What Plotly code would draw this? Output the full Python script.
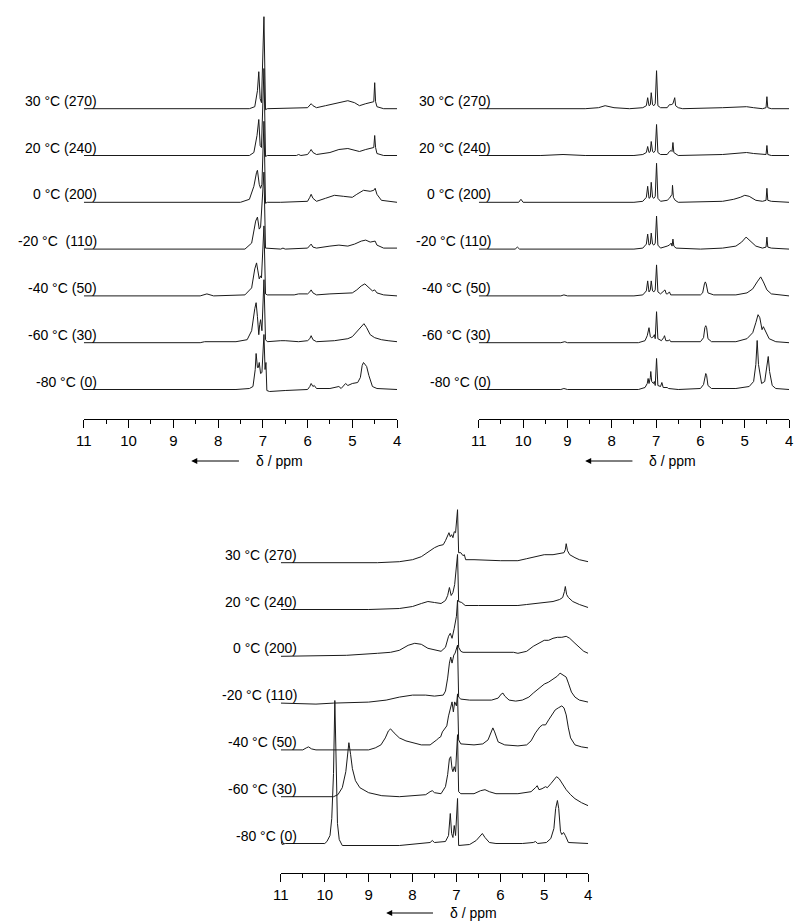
import plotly.graph_objects as go

W, H = 798, 922

# ---------------- data: stacked 1H NMR spectra, (ppm, height) vertices ----------------
LABELS_TL = ["-80 °C (0)", "-60 °C (30)", "-40 °C (50)", "-20 °C  (110)",
             "0 °C (200)", "20 °C (240)", "30 °C (270)"]
LABELS = ["-80 °C (0)", "-60 °C (30)", "-40 °C (50)", "-20 °C (110)",
          "0 °C (200)", "20 °C (240)", "30 °C (270)"]
TICKS = [11, 10, 9, 8, 7, 6, 5, 4]

# top-left panel
tl_m80 = [(11.0,0),(7.6,0),(7.3,1),(7.22,3),(7.17,20),(7.15,36),(7.12,22),(7.10,22),(7.08,27),(7.05,16),(7.02,17),(6.975,55),(6.95,20),(6.93,27),(6.91,-1),(6.85,-2),(6.5,-1),(6.0,0),(5.95,3),(5.92,6),(5.88,3),(5.85,4),(5.8,1),(5.5,1),(5.3,3),(5.25,1),(5.15,6),(5.1,4),(5.0,6),(4.88,7),(4.82,12),(4.78,24),(4.75,27),(4.70,24),(4.68,23),(4.63,14),(4.55,3),(4.45,1),(4.0,0)]
tl_m60 = [(11,0),(8.4,0),(8.3,1),(7.6,1),(7.35,3),(7.25,12),(7.18,34),(7.15,40),(7.12,26),(7.09,8),(7.07,18),(7.05,23),(7.02,12),(6.975,63),(6.94,3),(6.9,1),(6.6,2),(6.5,2),(6.2,1),(6.0,2),(5.95,4),(5.92,7),(5.88,3),(5.8,1),(5.4,2),(5.1,4),(5.0,6),(4.9,11),(4.8,17),(4.74,19),(4.68,15),(4.6,8),(4.5,5),(4.35,3),(4.2,2),(4.0,1)]
tl_m40 = [(11,0),(8.4,0),(8.25,2),(8.1,0),(7.4,1),(7.25,8),(7.18,27),(7.14,33),(7.11,25),(7.08,17),(7.05,20),(7.03,18),(6.975,70),(6.94,2),(6.9,1),(6.3,1),(6.2,2),(6.0,2),(5.95,4),(5.92,6),(5.88,3),(5.8,1),(5.5,2),(5.0,3),(4.9,6),(4.8,10),(4.72,12),(4.62,8),(4.55,5),(4.5,6),(4.45,3),(4.3,1),(4.0,0)]
tl_m20 = [(11,0),(7.4,0),(7.25,6),(7.16,28),(7.12,32),(7.08,20),(7.05,22),(6.975,77),(6.94,1),(6.6,0),(6.55,1),(6.5,0),(6.0,1),(5.95,3),(5.92,5),(5.88,2),(5.8,1),(5.5,3),(5.3,4),(5.1,3),(4.95,5),(4.8,8),(4.7,9),(4.6,7),(4.52,8),(4.49,8),(4.45,4),(4.3,1),(4.0,1)]
tl_0 = [(11,0),(7.5,0),(7.3,3),(7.2,16),(7.14,30),(7.12,32),(7.08,18),(7.05,14),(7.02,18),(6.975,81),(6.94,-1),(6.9,0),(6.6,0),(6.0,1),(5.95,5),(5.92,8),(5.88,4),(5.8,1),(5.6,4),(5.4,7),(5.2,6),(5.0,5),(4.9,8),(4.75,12),(4.6,11),(4.52,12),(4.49,14),(4.45,8),(4.35,2),(4.2,1),(4.0,0)]
tl_20 = [(11,0),(7.3,0),(7.2,3),(7.13,20),(7.09,36),(7.06,10),(7.03,8),(6.975,87),(6.94,-1),(6.9,0),(6.25,0),(6.2,1),(6.15,0),(6.0,1),(5.95,4),(5.92,6),(5.88,3),(5.8,1),(5.5,3),(5.3,6),(5.1,7),(4.95,5),(4.84,4),(4.7,6),(4.6,7),(4.52,8),(4.5,20),(4.48,8),(4.45,2),(4.3,0),(4.0,0)]
tl_30 = [(11,0),(7.3,0),(7.18,2),(7.12,18),(7.09,37),(7.06,10),(7.03,6),(6.975,92),(6.94,-1),(6.9,0),(6.0,1),(5.95,4),(5.92,5),(5.88,3),(5.8,1),(5.6,3),(5.3,6),(5.1,8),(4.95,6),(4.84,3),(4.7,5),(4.6,6),(4.52,7),(4.5,26),(4.48,7),(4.45,2),(4.3,0),(4.0,0)]

# top-right panel
tr_m80 = [(11,0),(9.15,0),(9.08,1),(9.0,0),(7.4,0),(7.25,2),(7.2,6),(7.18,11),(7.16,6),(7.13,12),(7.12,18),(7.1,8),(7.06,6),(7.04,8),(7.02,4),(6.99,31),(6.96,4),(6.9,3),(6.87,7),(6.84,2),(6.75,2),(6.72,1),(6.5,0),(6.0,1),(5.93,5),(5.9,14),(5.88,16),(5.86,14),(5.83,4),(5.75,1),(5.2,1),(4.9,3),(4.8,8),(4.75,25),(4.72,49),(4.69,25),(4.62,6),(4.55,8),(4.5,22),(4.47,33),(4.44,18),(4.38,4),(4.3,1),(4.0,0)]
tr_m60 = [(11,0),(9.15,0),(9.06,1),(9.0,0),(7.4,0),(7.25,2),(7.2,7),(7.16,15),(7.13,6),(7.1,5),(7.06,6),(7.04,8),(7.02,4),(6.99,31),(6.96,4),(6.88,2),(6.83,5),(6.81,7),(6.78,2),(6.72,2),(6.7,3),(6.67,1),(6.0,1),(5.93,5),(5.9,15),(5.88,17),(5.86,15),(5.83,4),(5.75,1),(5.2,1),(4.95,4),(4.82,10),(4.75,20),(4.7,28),(4.66,25),(4.61,13),(4.58,16),(4.54,12),(4.45,4),(4.3,1),(4.0,0)]
tr_m40 = [(11,0),(9.15,0),(9.08,1),(9.0,0),(7.5,0),(7.3,1),(7.22,5),(7.19,15),(7.16,4),(7.13,6),(7.11,15),(7.08,5),(7.05,4),(7.02,6),(6.99,31),(6.96,4),(6.9,2),(6.8,6),(6.77,2),(6.74,2),(6.7,4),(6.67,1),(6.0,1),(5.95,3),(5.91,12),(5.89,14),(5.87,12),(5.83,3),(5.7,1),(5.2,1),(4.95,3),(4.82,7),(4.72,14),(4.64,19),(4.58,14),(4.5,6),(4.4,2),(4.2,1),(4.0,0)]
tr_m20 = [(11,0),(10.18,0),(10.13,2),(10.08,0),(7.5,0),(7.3,1),(7.22,5),(7.19,15),(7.16,4),(7.13,5),(7.11,16),(7.08,5),(7.05,4),(7.02,6),(6.99,33),(6.96,4),(6.9,1),(6.78,2),(6.75,3),(6.7,4),(6.66,6),(6.64,3),(6.62,10),(6.6,3),(6.55,1),(6.0,0),(5.5,1),(5.2,3),(5.07,7),(4.97,12),(4.87,8),(4.75,3),(4.6,1),(4.52,2),(4.5,12),(4.48,2),(4.4,1),(4.0,0)]
tr_0 = [(11,0),(10.1,0),(10.05,3),(10.0,0),(7.5,0),(7.3,1),(7.22,5),(7.19,16),(7.16,4),(7.13,5),(7.11,20),(7.08,5),(7.05,4),(7.02,6),(6.99,39),(6.96,4),(6.9,1),(6.75,2),(6.7,4),(6.66,6),(6.64,8),(6.63,17),(6.61,5),(6.57,2),(6.5,0),(5.5,1),(5.25,3),(5.1,5),(5.0,7),(4.9,6),(4.75,2),(4.6,1),(4.52,2),(4.5,14),(4.48,2),(4.4,1),(4.0,0)]
tr_20 = [(11,0),(9.6,0),(9.1,1),(8.6,0),(7.5,0),(7.3,1),(7.22,3),(7.19,9),(7.16,3),(7.13,4),(7.11,14),(7.08,4),(7.05,3),(7.02,5),(6.99,31),(6.96,3),(6.9,1),(6.75,1),(6.7,4),(6.66,5),(6.64,4),(6.62,13),(6.6,3),(6.57,2),(6.5,0),(5.5,1),(5.1,2),(4.96,3),(4.8,2),(4.6,1),(4.52,1),(4.5,10),(4.48,1),(4.4,0),(4.0,0)]
tr_30 = [(11,0),(8.6,0),(8.3,1),(8.15,3),(7.95,1),(7.6,0),(7.3,1),(7.22,3),(7.19,11),(7.16,3),(7.13,4),(7.11,16),(7.08,4),(7.05,3),(7.02,5),(6.99,38),(6.96,3),(6.9,1),(6.75,1),(6.7,4),(6.66,4),(6.62,5),(6.58,11),(6.56,3),(6.5,1),(6.4,0),(5.5,1),(5.1,2),(4.96,2),(4.8,1),(4.6,0),(4.52,1),(4.5,12),(4.48,1),(4.4,0),(4.0,0)]

# bottom panel
b_m80 = [(11.0,3),(10.97,-1),(10.9,0),(10.0,0),(9.95,2),(9.88,8),(9.84,25),(9.8,70),(9.77,143),(9.74,60),(9.71,20),(9.67,4),(9.6,-2),(8.3,-2),(7.7,0),(7.6,1),(7.55,3),(7.5,1),(7.25,2),(7.18,8),(7.14,30),(7.11,10),(7.08,6),(7.05,18),(7.02,8),(6.975,45),(6.95,-2),(6.7,-1),(6.55,3),(6.45,8),(6.41,10),(6.35,6),(6.25,1),(6.1,0),(5.5,0),(5.25,1),(5.2,2),(5.15,0),(4.95,1),(4.85,5),(4.78,15),(4.74,35),(4.7,43),(4.67,35),(4.63,12),(4.6,9),(4.56,11),(4.52,8),(4.45,1),(4.0,0)]
b_m60 = [(11,0),(9.8,0),(9.7,2),(9.6,9),(9.52,25),(9.48,42),(9.45,54),(9.41,42),(9.37,28),(9.3,16),(9.2,9),(9.0,4),(8.7,1),(8.3,0),(7.7,2),(7.6,5),(7.55,6),(7.5,4),(7.35,3),(7.25,10),(7.2,22),(7.16,38),(7.13,40),(7.1,28),(7.08,25),(7.05,30),(7.02,25),(6.975,62),(6.95,5),(6.9,3),(6.6,3),(6.45,6),(6.35,7),(6.25,5),(6.1,3),(5.6,3),(5.3,5),(5.2,9),(5.16,11),(5.12,7),(5.05,8),(4.97,10),(4.93,9),(4.85,13),(4.78,17),(4.72,20),(4.66,18),(4.58,12),(4.5,7),(4.4,2),(4.3,-2),(4.15,-6),(4.0,-9)]
b_m40 = [(11,0),(10.5,0),(10.42,2),(10.37,3),(10.3,1),(10.2,0),(9.0,0),(8.85,2),(8.72,5),(8.62,12),(8.55,19),(8.5,21),(8.42,17),(8.3,12),(8.15,9),(8.0,7),(7.8,5),(7.6,5),(7.5,8),(7.45,10),(7.4,12),(7.36,13),(7.32,18),(7.27,21),(7.22,24),(7.18,34),(7.14,42),(7.1,48),(7.07,38),(7.04,48),(7.0,44),(6.975,56),(6.95,10),(6.9,6),(6.6,5),(6.4,6),(6.28,10),(6.22,17),(6.17,22),(6.13,18),(6.05,8),(5.9,5),(5.6,4),(5.4,5),(5.3,9),(5.2,17),(5.1,23),(5.04,25),(4.97,25),(4.9,30),(4.82,35),(4.75,40),(4.68,42),(4.6,44),(4.55,42),(4.5,35),(4.45,22),(4.4,12),(4.3,5),(4.15,3),(4.0,2)]
b_m20 = [(11,0),(10.2,-1),(9.8,0),(9.0,1),(8.6,3),(8.3,6),(8.0,8),(7.7,8),(7.5,7),(7.3,8),(7.25,12),(7.2,25),(7.16,40),(7.13,46),(7.1,40),(7.06,48),(7.03,50),(6.975,58),(6.95,6),(6.9,4),(6.7,3),(6.2,3),(6.05,5),(5.98,9),(5.94,10),(5.9,7),(5.8,3),(5.65,2),(5.5,3),(5.35,6),(5.25,10),(5.1,16),(5.0,19),(4.9,21),(4.8,24),(4.7,27),(4.64,30),(4.58,28),(4.5,26),(4.45,20),(4.38,11),(4.3,6),(4.2,3),(4.0,1)]
b_0 = [(11,0),(9.5,1),(8.8,3),(8.5,4),(8.3,6),(8.1,11),(7.95,13),(7.8,12),(7.65,8),(7.45,6),(7.35,5),(7.25,9),(7.18,20),(7.14,23),(7.1,18),(7.05,28),(7.0,40),(6.975,56),(6.95,9),(6.9,5),(6.85,4),(6.6,4),(6.0,4),(5.7,4),(5.6,3),(5.4,5),(5.25,10),(5.1,14),(5.0,16),(4.9,16),(4.8,18),(4.7,19),(4.6,19),(4.5,20),(4.42,18),(4.3,13),(4.2,9),(4.1,5),(4.0,3)]
b_20 = [(11,0),(9.0,0),(8.3,1),(8.0,3),(7.8,6),(7.65,8),(7.5,7),(7.35,6),(7.25,9),(7.2,14),(7.16,22),(7.12,14),(7.08,17),(7.04,25),(6.975,55),(6.95,8),(6.88,7),(6.85,6),(6.8,4),(6.5,4),(6.0,4),(5.6,4),(5.4,5),(5.2,6),(5.0,7),(4.8,8),(4.65,10),(4.58,12),(4.54,18),(4.52,23),(4.49,15),(4.45,12),(4.35,8),(4.2,5),(4.0,2)]
b_30 = [(11,0),(8.8,0),(8.3,1),(8.0,3),(7.8,6),(7.6,12),(7.5,15),(7.4,17),(7.3,18),(7.25,22),(7.2,27),(7.17,30),(7.14,26),(7.11,28),(7.08,25),(7.05,31),(7.02,30),(6.975,53),(6.95,10),(6.9,10),(6.85,7),(6.82,8),(6.79,3),(6.6,3),(6.0,2),(5.6,2),(5.4,4),(5.2,6),(5.0,8),(4.8,8),(4.65,9),(4.55,10),(4.52,13),(4.5,19),(4.47,12),(4.42,8),(4.3,5),(4.2,3),(4.0,1)]

# ---------------- layout constants (pixels of the 798x922 page) ----------------
BASE, STEP = 29.5, 46.8          # stack baseline of first spectrum / spacing
FONT = "Arial, Liberation Sans, sans-serif"
LINE = "#1a1a1a"

panels = [
    # name, spectra, labels, x-left px, x-right px, axis-line px, top px, label-right ppm, title offset px
    ("1", [tl_m80, tl_m60, tl_m40, tl_m20, tl_0, tl_20, tl_30], LABELS_TL, 77, 395, 419, 0, 10.66, 42),
    ("2", [tr_m80, tr_m60, tr_m40, tr_m20, tr_0, tr_20, tr_30], LABELS, 478, 793, 419, 0, 10.68, 42),
    ("3", [b_m80, b_m60, b_m40, b_m20, b_0, b_20, b_30], LABELS, 277, 589, 873, 480, 10.59, 40),
]

fig = go.Figure()
annotations = []
layout = dict(width=W, height=H, margin=dict(l=0, r=0, t=0, b=0),
              paper_bgcolor="white", plot_bgcolor="white", showlegend=False)

for name, spectra, labels, xl, xr, yax, ytop, lab_ppm, toff in panels:
    xa = "x" if name == "1" else "x" + name
    ya = "y" if name == "1" else "y" + name
    for i, sp in enumerate(spectra):
        off = BASE + i * STEP
        fig.add_trace(go.Scatter(x=[p for p, _ in sp], y=[off + h for _, h in sp],
                                 mode="lines", line=dict(color=LINE, width=1),
                                 xaxis=xa, yaxis=ya, hoverinfo="skip"))
        annotations.append(dict(x=lab_ppm, y=off + 8, xref=xa, yref=ya, text=labels[i],
                                showarrow=False, xanchor="right", yanchor="middle",
                                font=dict(family=FONT, size=14, color="black")))
    layout["xaxis" + ("" if name == "1" else name)] = dict(
        domain=[xl / W, xr / W], range=[11, 4], anchor=ya,
        showline=True, linecolor="black", linewidth=1, mirror=False,
        ticks="outside", ticklen=8, tickwidth=1, tickcolor="black",
        tickmode="array", tickvals=TICKS, ticktext=[str(t) for t in TICKS],
        ticklabeloverflow="allow",
        tickfont=dict(family=FONT, size=15, color="black"),
        minor=dict(ticks="outside", ticklen=4, tickwidth=1, tickcolor="black",
                   tickmode="linear", tick0=0.5, dtick=1, showgrid=False),
        showgrid=False, zeroline=False)
    layout["yaxis" + ("" if name == "1" else name)] = dict(
        domain=[1 - yax / H, 1 - ytop / H], range=[0, yax - ytop], visible=False)
    # arrow + axis title
    ypap = 1 - (yax + toff) / H
    annotations.append(dict(x=8.6, y=ypap, xref=xa, yref="paper", ax=7.5, ay=0,
                            axref=xa, ayref="pixel", text="", showarrow=True,
                            arrowhead=2, arrowsize=1.2, arrowwidth=1, arrowcolor="black"))
    annotations.append(dict(x=7.2, y=ypap, xref=xa, yref="paper", text="δ / ppm",
                            showarrow=False, xanchor="left", yanchor="middle",
                            font=dict(family=FONT, size=14, color="black")))

layout["annotations"] = annotations
fig.update_layout(**layout)
fig.write_html("out.html", config={"displayModeBar": False},
               post_script="document.body.style.margin='0px';document.body.style.overflow='hidden';")
